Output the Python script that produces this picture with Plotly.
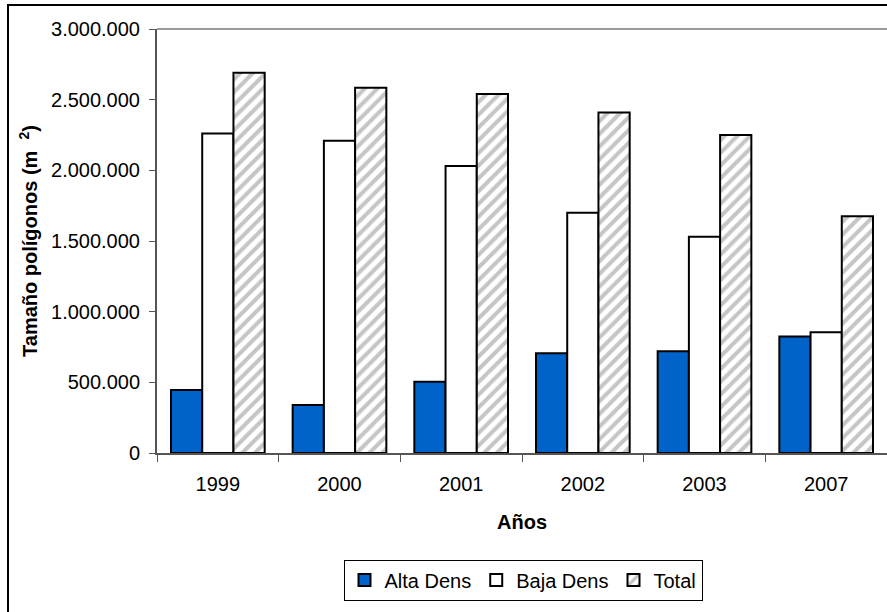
import plotly.graph_objects as go

# Polygon size by year and density class
years = ["1999", "2000", "2001", "2002", "2003", "2007"]
alta_dens = [445000, 340000, 505000, 705000, 720000, 825000]
baja_dens = [2260000, 2210000, 2030000, 1700000, 1530000, 855000]
total = [2690000, 2585000, 2540000, 2410000, 2250000, 1675000]

y_ticks = [0, 500000, 1000000, 1500000, 2000000, 2500000, 3000000]

W, H = 887, 612
L, R, T, B = 157, 0, 29, 159
plot_w = W - L - R
plot_h = H - T - B

FONT = "Liberation Sans"
outline = dict(color="black", width=2)

fig = go.Figure()
fig.add_trace(go.Bar(
    name="Alta Dens", x=years, y=alta_dens,
    marker=dict(color="#0063C9", line=outline),
))
fig.add_trace(go.Bar(
    name="Baja Dens", x=years, y=baja_dens,
    marker=dict(color="white", line=outline),
))
fig.add_trace(go.Bar(
    name="Total", x=years, y=total,
    marker=dict(
        color="white", line=outline,
        pattern=dict(shape="/", fgcolor="#8c8c8c", bgcolor="white",
                     size=9, solidity=0.45),
    ),
))

# outer frame of the chart, running off the right and bottom edges
def px_x(px):
    return (px - L) / plot_w

def px_y(py):
    return (H - B - py) / plot_h

fig.add_shape(type="rect", xref="paper", yref="paper",
              x0=px_x(8), x1=px_x(W + 5), y0=px_y(5), y1=px_y(H + 5),
              line=dict(color="black", width=2), fillcolor="rgba(0,0,0,0)",
              layer="below")
# top edge of the plot area
fig.add_shape(type="line", xref="paper", yref="paper",
              x0=0, x1=1, y0=1, y1=1,
              line=dict(color="#9a9a9a", width=2))

fig.update_layout(
    width=W, height=H,
    margin=dict(l=L, r=R, t=T, b=B, autoexpand=False),
    paper_bgcolor="white", plot_bgcolor="white",
    separators=",.",
    font=dict(family=FONT, size=20, color="black"),
    barmode="group", bargap=0.23, bargroupgap=0,
    showlegend=True,
    legend=dict(
        orientation="h", x=px_x(523), y=px_y(580),
        xanchor="center", yanchor="middle",
        bordercolor="black", borderwidth=1, bgcolor="white",
        font=dict(family=FONT, size=20), itemwidth=30,
        traceorder="normal",
    ),
    xaxis=dict(
        showline=True, linecolor="#555555", linewidth=2,
        ticks="outside", tickson="boundaries", ticklen=7,
        tickcolor="#555555", tickwidth=1,
        tickfont=dict(family=FONT, size=20), ticklabelstandoff=12,
        showgrid=False,
        title=dict(text="<b>Años</b>", font=dict(family=FONT, size=20),
                   standoff=21),
    ),
    yaxis=dict(
        range=[0, 3000000], tickvals=y_ticks, tickformat=",d",
        showline=True, linecolor="#555555", linewidth=2,
        ticks="outside", ticklen=6, tickcolor="#555555", tickwidth=1,
        tickfont=dict(family=FONT, size=20), ticklabelstandoff=5,
        showgrid=False, zeroline=False,
        title=dict(text="<b>Tamaño polígonos (m  <sup>2</sup>)</b>",
                   font=dict(family=FONT, size=20), standoff=8),
    ),
)

fig.write_html("out.html")
